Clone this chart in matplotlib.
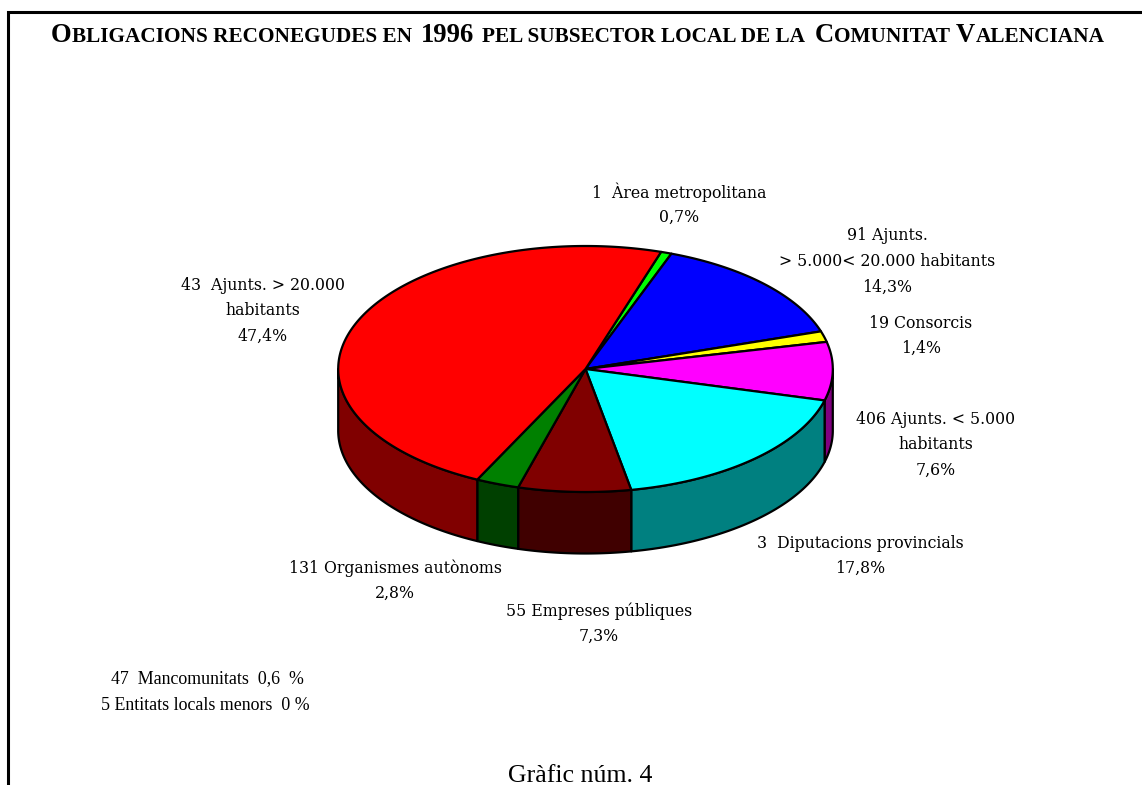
import numpy as np
import matplotlib
matplotlib.use("Agg")
import matplotlib.pyplot as plt
from matplotlib.patches import Polygon

# ---- data (clockwise from the top edge of the first slice) ----
slice_names = ["Àrea metropolitana", "Ajunts. 5.000-20.000", "Consorcis", "Ajunts. < 5.000",
               "Diputacions provincials", "Empreses públiques", "Organismes autònoms", "Ajunts. > 20.000"]
slice_values = [0.7, 14.3, 1.4, 7.6, 17.8, 7.3, 2.8, 47.4]
top_colors = ["#00ff00", "#0000ff", "#ffff00", "#ff00ff", "#00ffff", "#800000", "#008000", "#ff0000"]
side_colors = ["#008000", "#000080", "#808000", "#800080", "#008080", "#400000", "#004000", "#800000"]

labels = ["1  Àrea metropolitana\n0,7%",
          "91 Ajunts.\n> 5.000< 20.000 habitants\n14,3%",
          "19 Consorcis\n1,4%",
          "406 Ajunts. < 5.000\nhabitants\n7,6%",
          "3  Diputacions provincials\n17,8%",
          "55 Empreses públiques\n7,3%",
          "131 Organismes autònoms\n2,8%",
          "43  Ajunts. > 20.000\nhabitants\n47,4%"]
label_x = [679, 887, 921, 936, 860, 599, 395, 263]
label_y = [192, 236, 323, 419, 543, 611, 568, 285]

small_notes = ["47  Mancomunitats  0,6  %", "5 Entitats locals menors  0 %"]
title_parts = [("O", 1), ("BLIGACIONS RECONEGUDES EN", 0), ("1996", 1), ("PEL SUBSECTOR LOCAL DE LA", 0),
               ("C", 1), ("OMUNITAT", 0), ("V", 1), ("ALENCIANA", 0)]
title_gaps = [0, 0, 9, 8, 10, 0, 6, 0]
caption = "Gràfic núm. 4"

# ---- geometry ----
CX, CY, RX, RY, DEPTH = 585.5, 369.0, 247.3, 123.0, 61.5
START = 72.2
LW = 1.6

fig = plt.figure(figsize=(11.42, 7.85), dpi=100, facecolor="white")
ax = fig.add_axes([0, 0, 1, 1])
ax.set_xlim(0, 1142)
ax.set_ylim(785, 0)
ax.axis("off")

ax.plot([7.5, 7.5, 1142], [785, 11.5, 11.5], color="black", lw=2.2, solid_joinstyle="miter")

def arc(t0, t1, dy=0.0):
    t = np.radians(np.linspace(t0, t1, max(int(abs(t1 - t0) * 2), 2)))
    return np.column_stack([CX + RX * np.cos(t), CY + dy - RY * np.sin(t)])

angles = np.asarray(slice_values) / sum(slice_values) * 360.0
ends = START - np.cumsum(angles)
starts = ends + angles

# side walls
for a0, a1, c in zip(starts, ends, side_colors):
    for shift in (0, 360):
        s0, s1 = min(a0 + shift, 0), max(a1 + shift, -180)
        if s0 > s1 and a0 + shift > -180 and a1 + shift < 0:
            top = arc(s0, s1)
            bottom = arc(s1, s0, DEPTH)
            ax.add_patch(Polygon(np.vstack([top, bottom]), closed=True, facecolor=c,
                                 edgecolor="black", lw=LW, joinstyle="round"))
# top faces
for a0, a1, c in zip(starts, ends, top_colors):
    pts = np.vstack([[CX, CY], arc(a0, a1)])
    ax.add_patch(Polygon(pts, closed=True, facecolor=c, edgecolor="black", lw=LW, joinstyle="round"))

serif = "Liberation Serif"
for txt, x, y in zip(labels, label_x, label_y):
    for i, line in enumerate(txt.split("\n")):
        ax.text(x, y + i * 25.6, line, ha="center", va="center", family="DejaVu Serif",
                stretch="condensed", fontsize=12.6, color="black")

for txt, x, y in zip(small_notes, [207, 205], [679, 705]):
    ax.text(x, y, txt, ha="center", va="center", family=serif, fontsize=12.9, color="black")

ax.text(580.5, 782, caption, ha="center", va="baseline", family=serif, fontsize=18.6, color="black")

# title: small capitals built from two sizes
renderer = fig.canvas.get_renderer()
x = 51.0
for (part, big), gap in zip(title_parts, title_gaps):
    x += gap
    t = ax.text(x, 41.5, part, ha="left", va="baseline", family=serif, weight="bold",
                fontsize=19.2 if big else 15.35, color="black")
    x += t.get_window_extent(renderer).width

fig.savefig("out.png", dpi=100, facecolor="white")
